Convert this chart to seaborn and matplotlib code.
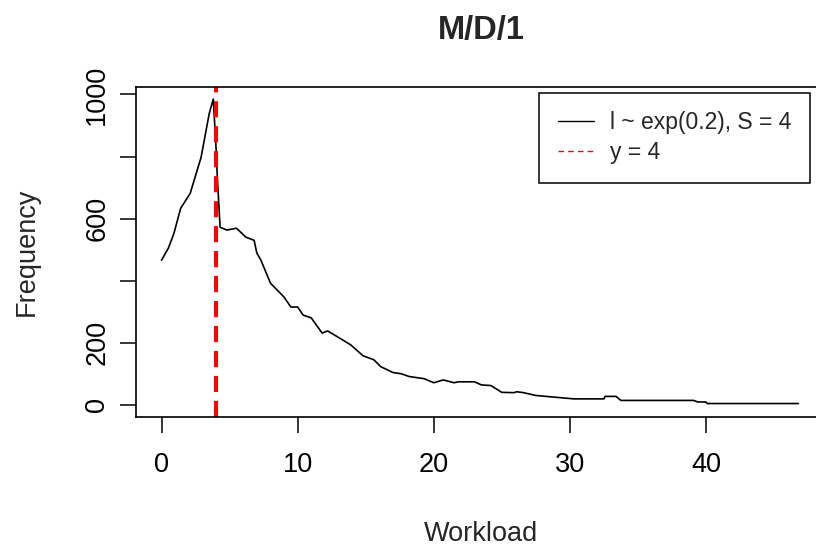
import matplotlib
matplotlib.use("Agg")
import matplotlib.pyplot as plt
from matplotlib.lines import Line2D
import seaborn as sns
import pandas as pd

workload = [0, 0.5, 0.9, 1.4, 2.1, 2.9, 3.5, 3.65, 3.8, 4.0, 4.1, 4.3, 4.8, 5.5, 6.2,
            6.8, 7.0, 7.3, 8.0, 9.0, 9.5, 10.0, 10.4, 11.0, 11.8, 12.2, 12.7, 13.9,
            14.8, 15.6, 16.1, 17.0, 17.6, 18.2, 19.3, 20.0, 20.7, 21.5, 21.8, 23.0,
            23.5, 24.2, 25.0, 25.9, 26.1, 26.6, 27.5, 28.5, 30.3, 32.5, 32.6, 33.4,
            33.75, 39.1, 39.4, 40.0, 40.1, 46.8]
frequency = [466, 505, 551, 633, 681, 797, 938, 962, 985, 830, 730, 572, 563, 569, 540,
             530, 489, 466, 392, 347, 315, 315, 289, 280, 231, 238, 225, 193,
             158, 145, 123, 104, 100, 91, 84, 71, 80, 71, 74, 74,
             64, 62, 40, 39, 42, 39, 30, 26, 19, 19, 27, 27,
             14, 14, 9, 9, 4, 4]
vline_x = 4
curve_label = "l ~ exp(0.2), S = 4"
vline_label = "y = 4"

df = pd.DataFrame({"Workload": workload, "Frequency": frequency})

sns.set_style("white")
plt.rcParams["font.family"] = ["Liberation Sans", "DejaVu Sans"]

fig = plt.figure(figsize=(8.16, 5.49), dpi=100)
ax = fig.add_axes([136 / 816, 132 / 549, 691 / 816, 330 / 549])

sns.lineplot(data=df, x="Workload", y="Frequency", color="black", linewidth=1.2, ax=ax)
ax.axvline(vline_x, color="red", linewidth=2.9, linestyle=(0, (4, 2.2)))

ax.set_xlim(-1.88, 48.9)
ax.set_ylim(-39.4, 1024)
ax.set_xticks([0, 10, 20, 30, 40])
ax.set_yticks([0, 200, 400, 600, 800, 1000])
ax.set_yticklabels(["0", "200", "", "600", "", "1000"], rotation=90, va="center")
ax.tick_params(direction="out", length=11.5, width=1.1, labelsize=19.5, colors="black",
               left=True, bottom=True)
ax.tick_params(axis="x", pad=14)
ax.tick_params(axis="y", pad=7)
for s in ax.spines.values():
    s.set_color("black")
    s.set_linewidth(1.2)

ax.set_xlabel("Workload", fontsize=19.5, labelpad=31)
ax.set_ylabel("Frequency", fontsize=19.5, labelpad=32)
fig.text(481 / 816, 1 - 30 / 549, "M/D/1", fontsize=23.5, fontweight="bold",
         ha="center", va="center")

handles = [Line2D([], [], color="black", linewidth=1.0),
           Line2D([], [], color="red", linewidth=1.0, linestyle=(0, (4, 3)))]
leg = ax.legend(handles, [curve_label, vline_label], loc="upper right",
                bbox_to_anchor=(810 / 816, 1 - 93 / 549), bbox_transform=fig.transFigure,
                fontsize=16.5, frameon=True, fancybox=False, framealpha=1,
                edgecolor="black", handlelength=1.6, handletextpad=0.7,
                labelspacing=0.3, borderpad=0.8, borderaxespad=0)
leg.get_frame().set_linewidth(1.1)

fig.savefig("out.png", dpi=100)
